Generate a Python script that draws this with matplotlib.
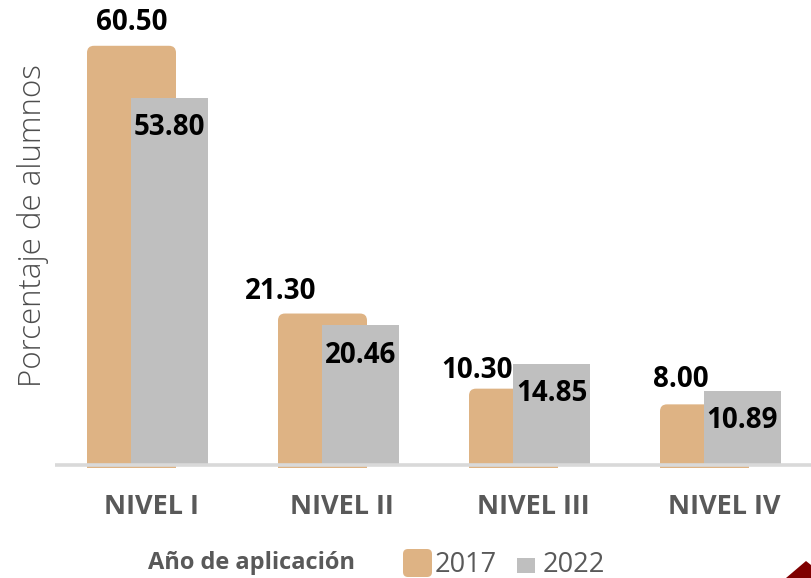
"""Porcentaje de alumnos por nivel de logro, 2017 vs 2022."""

import matplotlib

matplotlib.use("Agg")
import matplotlib.pyplot as plt
from matplotlib.patches import FancyBboxPatch, Polygon
from matplotlib.transforms import ScaledTranslation


# ---------------------------------------------------------------------
# Data
# ---------------------------------------------------------------------
niveles = ["NIVEL I", "NIVEL II", "NIVEL III", "NIVEL IV"]
anios = ["2017", "2022"]
valores_2017 = [60.50, 21.30, 10.30, 8.00]
valores_2022 = [53.80, 20.46, 14.85, 10.89]

# label nudges for the 2017 values (pixels), as placed in the original
nudge_2017 = [(0, 20), (-42, 19), (-36, 15), (-24, 22)]

TAN = "#DEB384"
GRAY = "#BFBFBF"
TEXT = "#595959"
FLOOR = "#D9D9D9"

plt.rcParams.update(
    {
        "font.family": ["Open Sans", "DejaVu Sans"],
    }
)

W, H = 811, 578
PX_X = 191.0   # pixels per category
PX_Y = 6.83    # pixels per percentage point
DEPTH = 6      # back row lifted a few pixels (3D look)

fig = plt.figure(figsize=(W / 100, H / 100), dpi=100)
ax = fig.add_axes([55 / W, 110 / H, 756 / W, (468 - (465 - 62 * PX_Y)) / H])
ax.set_xlim((55 - 151) / PX_X, (811 - 151) / PX_X)
ax.set_ylim(-3 / PX_Y, 62)

# bar geometry in category units
L17, W17 = -64 / PX_X, 89 / PX_X
L22, W22 = -20 / PX_X, 77 / PX_X
radius = 7 / PX_X
aspect = (7 / PX_Y) / radius

lift = ax.transData + ScaledTranslation(0, DEPTH / 100, fig.dpi_scale_trans)

for i, v in enumerate(valores_2017):
    ax.add_patch(
        FancyBboxPatch(
            (i + L17, -10),
            W17,
            v + 10,
            boxstyle=f"round,pad=0,rounding_size={radius}",
            mutation_aspect=aspect,
            transform=lift,
            facecolor=TAN,
            edgecolor="none",
            zorder=2,
        )
    )

x22 = [i + L22 for i in range(len(niveles))]
ax.bar(
    x22,
    valores_2022,
    width=W22,
    align="edge",
    color=GRAY,
    edgecolor="none",
    zorder=3,
)

ax.axhline(0, color=FLOOR, linewidth=2.6, zorder=4)

# value labels
for i, v in enumerate(valores_2017):
    dx, dy = nudge_2017[i]
    ax.annotate(
        f"{v:.2f}",
        xy=(i + L17 + W17 / 2, v),
        xytext=(dx * 0.72, (DEPTH + dy + 3) * 0.72),
        textcoords="offset points",
        ha="center",
        va="center",
        fontsize=20,
        fontweight="bold",
        color="black",
        zorder=6,
    )

for i, v in enumerate(valores_2022):
    ax.annotate(
        f"{v:.2f}",
        xy=(i + L22 + W22 / 2, v),
        xytext=(0, (-33 + 3) * 0.72),
        textcoords="offset points",
        ha="center",
        va="center",
        fontsize=20,
        fontweight="bold",
        color="black",
        zorder=6,
    )

ax.set_xticks(range(len(niveles)), niveles)
ax.tick_params(axis="x", length=0, pad=19, labelsize=19.5, labelcolor=TEXT)
for lab in ax.get_xticklabels():
    lab.set_fontweight("bold")
ax.set_yticks([])
for side in ["top", "right", "left", "bottom"]:
    ax.spines[side].set_visible(False)

fig.text(
    33 / W,
    1 - 226 / H,
    "Porcentaje de alumnos",
    rotation=90,
    ha="center",
    va="center",
    fontsize=22.5,
    fontweight="light",
    color="#4D4D4D",
)

# ---------------------------------------------------------------------
# Legend
# ---------------------------------------------------------------------
fig.text(
    252 / W,
    1 - 563 / H,
    "Año de aplicación",
    ha="center",
    va="center",
    fontsize=17,
    fontweight="bold",
    color=TEXT,
)

fig.patches.append(
    FancyBboxPatch(
        (403 / W, 1 - 577 / H),
        29 / W,
        28 / H,
        boxstyle=f"round,pad=0,rounding_size={5 / W}",
        mutation_aspect=W / H,
        transform=fig.transFigure,
        facecolor=TAN,
        edgecolor="none",
    )
)
fig.patches.append(
    FancyBboxPatch(
        (517 / W, 1 - 573 / H),
        18 / W,
        15 / H,
        boxstyle="square,pad=0",
        transform=fig.transFigure,
        facecolor=GRAY,
        edgecolor="none",
    )
)
for x0, name in zip([435, 543], anios):
    fig.text(
        x0 / W,
        1 - 565 / H,
        name,
        ha="left",
        va="center",
        fontsize=19.5,
        color=TEXT,
    )

# corner decoration of the slide
fig.patches.append(
    Polygon(
        [(786 / W, 0), (806 / W, 1 - 561 / H), (1, 1 - 565 / H), (1, 0)],
        closed=True,
        transform=fig.transFigure,
        facecolor="#7F0000",
        edgecolor="none",
    )
)

fig.savefig("out.png", dpi=100, facecolor="white")
